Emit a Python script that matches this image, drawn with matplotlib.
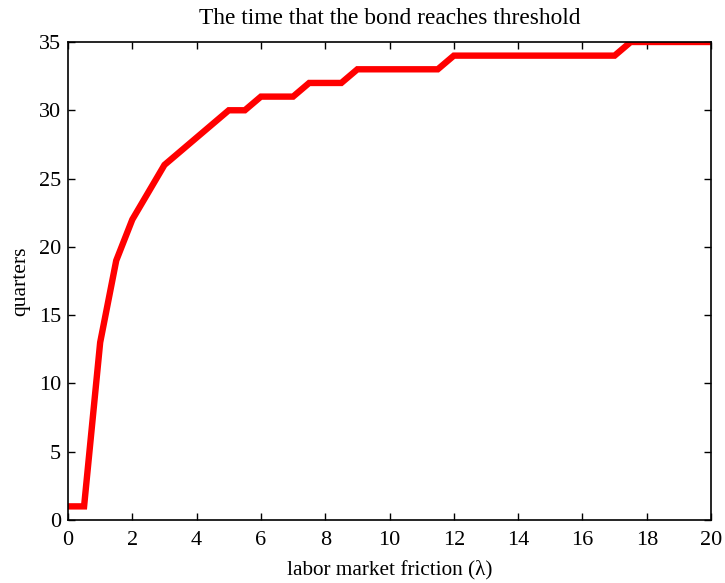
import matplotlib
matplotlib.use("Agg")
import matplotlib.pyplot as plt

# labor market friction values and quarters until the bond hits threshold
friction = [0, 0.5, 1, 1.5, 2, 2.5, 3, 3.5, 4, 4.5, 5, 5.5, 6, 6.5, 7, 7.5, 8, 8.5,
            9, 9.5, 10, 10.5, 11, 11.5, 12, 12.5, 13, 13.5, 14, 14.5, 15, 15.5,
            16, 16.5, 17, 17.5, 18, 18.5, 19, 19.5, 20]
quarters = [1, 1, 13, 19, 22, 24, 26, 27, 28, 29, 30, 30, 31, 31, 31, 32, 32, 32,
            33, 33, 33, 33, 33, 33, 34, 34, 34, 34, 34, 34, 34, 34,
            34, 34, 34, 35, 35, 35, 35, 35, 35]

xticks = [0, 2, 4, 6, 8, 10, 12, 14, 16, 18, 20]
yticks = [0, 5, 10, 15, 20, 25, 30, 35]

plt.rcParams['font.family'] = ['Liberation Serif', 'DejaVu Serif']

fig = plt.figure(figsize=(7.25, 5.83), dpi=100)
ax = fig.add_axes([0.0938, 0.108, 0.887, 0.820])

ax.plot(friction, quarters, color='#ff0000', linewidth=4.6,
        solid_joinstyle='miter', solid_capstyle='butt', zorder=3)

ax.set_xlim(0, 20)
ax.set_ylim(0, 35)
ax.set_xticks(xticks)
ax.set_yticks(yticks)
ax.tick_params(direction='in', top=True, right=True, length=5, width=1,
               labelsize=16, pad=5)
ax.tick_params(axis='x', pad=8)
for s in ax.spines.values():
    s.set_linewidth(1.2)
    s.set_zorder(4)

ax.set_title('The time that the bond reaches threshold', fontsize=16.8, pad=13)
ax.set_xlabel('labor market friction (λ)', fontsize=15.3, labelpad=7)
ax.set_ylabel('quarters', fontsize=15.6, labelpad=6)

fig.savefig('out.png', dpi=100)
